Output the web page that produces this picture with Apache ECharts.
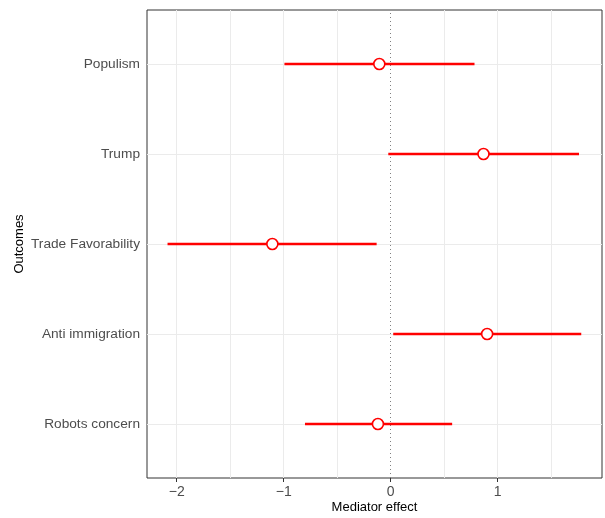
<!DOCTYPE html>
<html>
<head>
<meta charset="utf-8">
<script src="https://cdn.jsdelivr.net/npm/echarts@6/dist/echarts.min.js"></script>
<style>
  html, body { margin: 0; padding: 0; background: #fff; }
  #chart { width: 605px; height: 518px; }
</style>
</head>
<body>
<div id="chart"></div>
<script>
// Outcomes, listed top to bottom
const outcomes = ['Populism', 'Trump', 'Trade Favorability', 'Anti immigration', 'Robots concern'];
// Mediator effect estimates and interval bounds, in the same order
const estimates = [-0.106, 0.868, -1.106, 0.902, -0.119];
const lower = [-0.993, -0.022, -2.086, 0.024, -0.801];
const upper = [0.784, 1.761, -0.131, 1.782, 0.575];
// Axis ticks and grid lines
const xTicks = [-2, -1, 0, 1];
const xGrid = [-2, -1.5, -1, -0.5, 0.5, 1, 1.5];

const n = outcomes.length;
const yPos = outcomes.map((_, i) => n - i);           // top row sits highest
const labelFor = v => {
  const i = n - Math.round(v);
  return outcomes[i] || '';
};

const pointData = estimates.map((e, i) => [e, yPos[i]]);

const font = 'Liberation Sans, Arial, Helvetica, sans-serif';
const gridColor = '#EBEBEB';

// one horizontal segment per outcome, from lower to upper bound
const intervalSeries = outcomes.map((name, i) => ({
  type: 'line',
  name: name,
  data: [[lower[i], yPos[i]], [upper[i], yPos[i]]],
  z: 3,
  symbol: 'none',
  silent: true,
  clip: false,
  lineStyle: { color: '#FF0000', width: 2.3, cap: 'butt' },
  itemStyle: { color: '#FF0000' }
}));

const chart = echarts.init(document.getElementById('chart'), null, { renderer: 'canvas' });
chart.setOption({
  animation: false,
  backgroundColor: '#ffffff',
  grid: {
    left: 147, right: 3, top: 10, bottom: 40,
    outerBoundsMode: 'none',
    containLabel: false,
    show: true, borderColor: '#333333', borderWidth: 1, backgroundColor: 'transparent'
  },
  xAxis: {
    type: 'value',
    min: -2.278, max: 1.976,
    name: 'Mediator effect',
    nameLocation: 'middle',
    nameGap: 23,
    nameMoveOverlap: false,
    nameTextStyle: { color: '#000', fontSize: 13, fontFamily: font },
    axisLine: { show: false },
    axisTick: { show: true, length: 4, customValues: xTicks, lineStyle: { color: '#333', width: 1 } },
    axisLabel: {
      customValues: xTicks, margin: 7, color: '#4D4D4D', fontSize: 14, fontFamily: font,
      formatter: v => String(v).replace('-', '\u2212')
    },
    splitLine: { show: false }
  },
  yAxis: {
    type: 'value',
    min: 0.4, max: 5.6,
    name: 'Outcomes',
    nameLocation: 'middle',
    nameGap: 121,
    nameMoveOverlap: false,
    nameRotate: 90,
    nameTextStyle: { color: '#000', fontSize: 13, fontFamily: font },
    axisLine: { show: false },
    axisTick: { show: true, length: 4, customValues: yPos, lineStyle: { color: '#333', width: 1 } },
    axisLabel: {
      customValues: yPos, margin: 7, color: '#4D4D4D', fontSize: 13.7, fontFamily: font,
      formatter: v => labelFor(v)
    },
    splitLine: { show: false }
  },
  series: [
    {
      // background grid lines and the dotted zero reference
      type: 'line',
      data: [],
      silent: true,
      z: 1,
      markLine: {
        silent: true,
        z: 1,
        symbol: 'none',
        label: { show: false },
        animation: false,
        data: [
          ...xGrid.map(v => ({ xAxis: v, lineStyle: { color: gridColor, width: 1, type: 'solid' } })),
          ...yPos.map(v => ({ yAxis: v, lineStyle: { color: gridColor, width: 1, type: 'solid' } })),
          { xAxis: 0, lineStyle: { color: '#808080', width: 1, type: [1, 3] } }
        ]
      }
    },
    ...intervalSeries,
    {
      // point estimates
      type: 'scatter',
      data: pointData,
      z: 4,
      symbol: 'circle',
      symbolSize: 11,
      clip: false,
      itemStyle: { color: '#FFFFFF', borderColor: '#FF0000', borderWidth: 1.6, opacity: 1 }
    }
  ]
});
</script>
</body>
</html>
